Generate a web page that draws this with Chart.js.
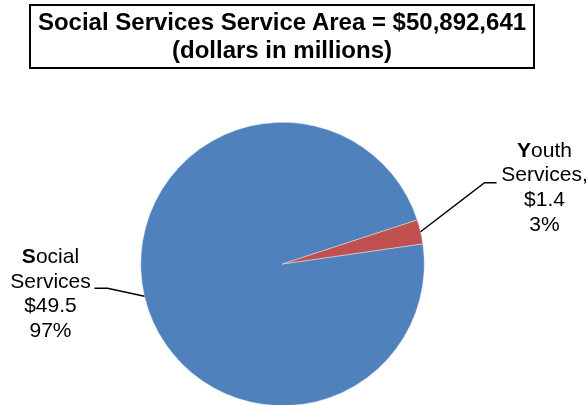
<!DOCTYPE html>
<html>
<head>
<meta charset="utf-8">
<script src="https://cdn.jsdelivr.net/npm/chart.js@4"></script>
<style>
  html, body { margin: 0; padding: 0; background: #fff; overflow: hidden; }
  #wrap { position: relative; width: 587px; height: 412px; }
  #title {
    position: absolute; left: 29px; top: 4px; width: 506px; height: 65px;
    box-sizing: border-box; border: 2px solid #000; padding-top: 2px;
    font: bold 24px "Liberation Sans", Arial, sans-serif; line-height: 28px;
    text-align: center; color: #000;
  }
</style>
</head>
<body>
<div id="wrap">
  <canvas id="pie" width="587" height="412"></canvas>
  <div id="title">Social Services Service Area = $50,892,641<br>(dollars in millions)</div>
</div>
<script>
var categories = ["Social Services", "Youth Services"];
var amounts = [49.5, 1.4];
var percents = ["97%", "3%"];
var sliceColors = ["#4F81BD", "#C0504D"];

// label text lines per slice (first letter is bold in the original)
var labelLines = [
  ["Social", "Services", "$" + amounts[0], percents[0]],
  ["Youth", "Services,", "$" + amounts[1], percents[1]]
];

// leader line + text offsets from the slice edge point
var labelPlace = [
  { elbow: [-37, -8], end: [-50, -8], text: [-94, -39] },
  { elbow: [64, -49], end: [76, -49], text: [124, -81] }
];

var pieLabels = {
  id: "pieLabels",
  afterDatasetsDraw: function (chart) {
    var ctx = chart.ctx;
    var meta = chart.getDatasetMeta(0);
    ctx.save();
    meta.data.forEach(function (arc, i) {
      var mid = (arc.startAngle + arc.endAngle) / 2;
      var ex = arc.x + Math.cos(mid) * arc.outerRadius;
      var ey = arc.y + Math.sin(mid) * arc.outerRadius;
      var p = labelPlace[i];
      ctx.strokeStyle = "#000";
      ctx.lineWidth = 1.5;
      ctx.beginPath();
      ctx.moveTo(ex, ey);
      ctx.lineTo(ex + p.elbow[0], ey + p.elbow[1]);
      ctx.lineTo(ex + p.end[0], ey + p.end[1]);
      ctx.stroke();

      var cx = ex + p.text[0];
      var cy = ey + p.text[1];
      ctx.fillStyle = "#000";
      ctx.textBaseline = "middle";
      ctx.textAlign = "left";
      labelLines[i].forEach(function (line, j) {
        var y = cy + j * 24.7;
        if (j === 0) {
          var first = line.charAt(0), rest = line.slice(1);
          ctx.font = "bold 21px 'Liberation Sans', Arial, sans-serif";
          var w1 = ctx.measureText(first).width;
          ctx.font = "21px 'Liberation Sans', Arial, sans-serif";
          var w2 = ctx.measureText(rest).width;
          var x0 = cx - (w1 + w2) / 2;
          ctx.font = "bold 21px 'Liberation Sans', Arial, sans-serif";
          ctx.fillText(first, x0, y);
          ctx.font = "21px 'Liberation Sans', Arial, sans-serif";
          ctx.fillText(rest, x0 + w1, y);
        } else {
          ctx.font = "21px 'Liberation Sans', Arial, sans-serif";
          var w = ctx.measureText(line).width;
          ctx.fillText(line, cx - w / 2, y);
        }
      });
    });
    ctx.restore();
  }
};

new Chart(document.getElementById("pie"), {
  type: "pie",
  data: {
    labels: categories,
    datasets: [{
      data: amounts,
      backgroundColor: sliceColors,
      borderColor: "#dfe6f0",
      borderWidth: 0.5
    }]
  },
  options: {
    responsive: false,
    animation: false,
    rotation: 81.8,
    layout: { padding: { left: 140, right: 162, top: 122, bottom: 6 } },
    plugins: {
      legend: { display: false },
      tooltip: { enabled: false },
      title: { display: false }
    }
  },
  plugins: [pieLabels]
});
</script>
</body>
</html>
